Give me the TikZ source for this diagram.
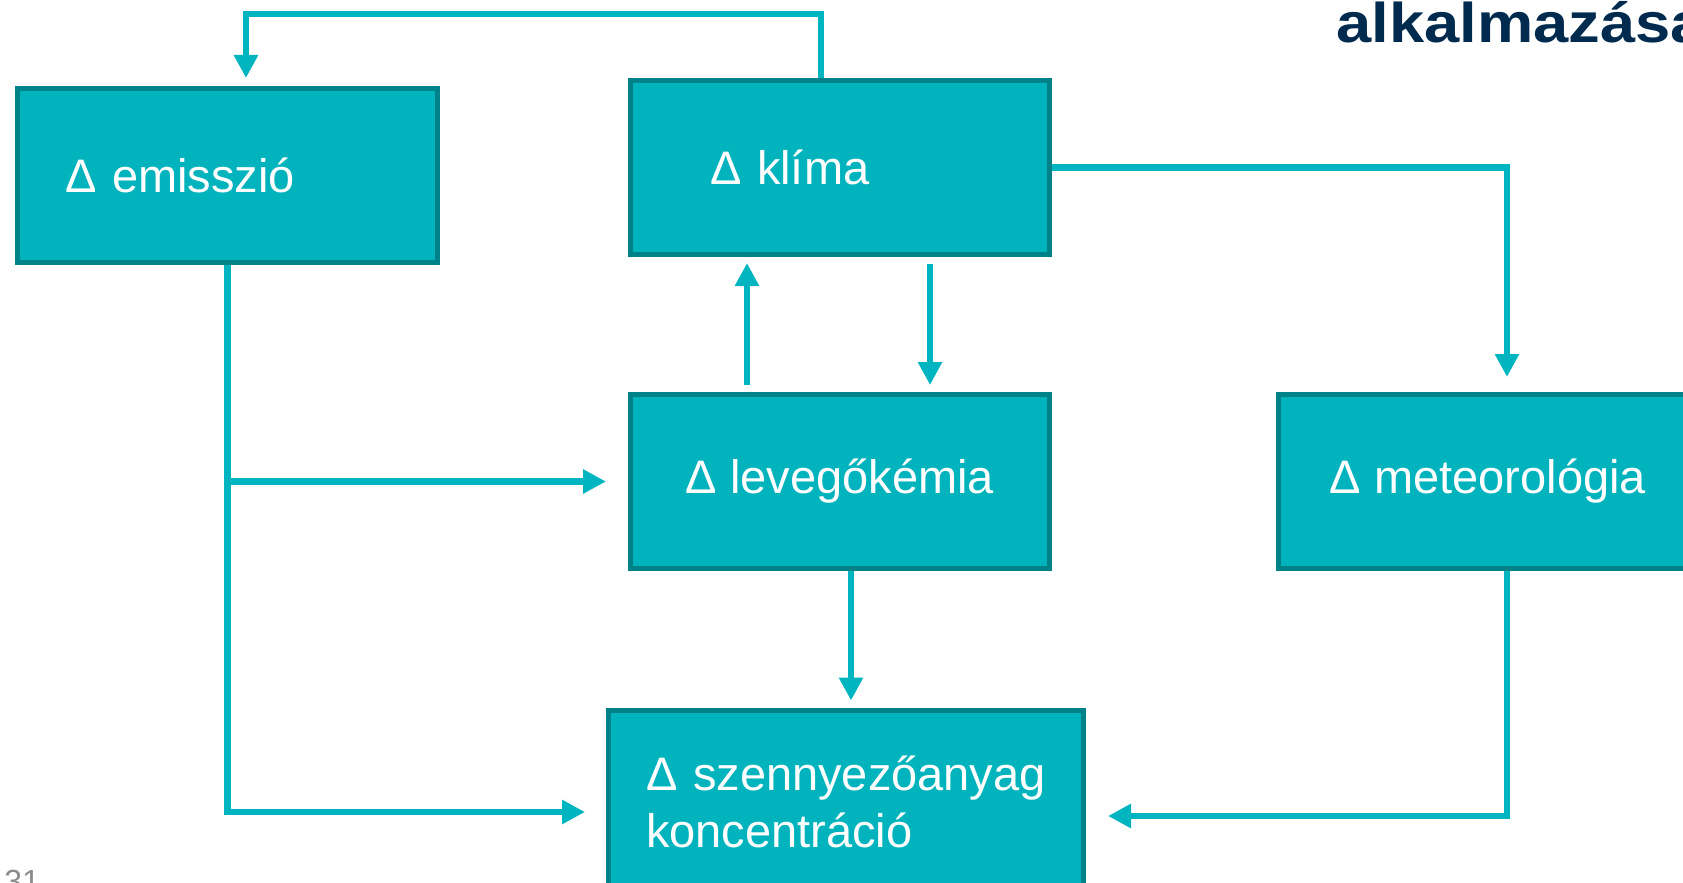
\documentclass[tikz,border=0pt]{standalone}
\usepackage{fontspec}
\setmainfont{Liberation Sans}
\usetikzlibrary{arrows.meta}
\definecolor{boxfill}{RGB}{0,179,189}
\definecolor{boxline}{RGB}{0,130,136}
\definecolor{linkcol}{RGB}{0,181,191}
\definecolor{titlecol}{RGB}{0,43,78}
\definecolor{numcol}{RGB}{140,140,140}

\begin{document}
\begin{tikzpicture}[
  x = 0.5pt, y = -0.5pt,
  box/.style = {draw = boxline, line width = 2.5pt, fill = boxfill,
    text = white, font = \fontsize{23.5}{28.5}\selectfont,
    minimum height = 87pt, inner ysep = 0pt},
  leftbox/.style 2 args = {box, align = left, text width = #1, inner xsep = #2},
  midbox/.style = {box, align = center, minimum width = 209.5pt},
  link/.style = {draw = linkcol, line width = 3.2pt,
    -{Triangle[length = 11.5pt, width = 11.5pt]}}
]

\useasboundingbox (0,0) rectangle (1683,883);

\node [leftbox = {162.5pt}{23.75pt}] (emis) at (227.5,175.5) {Δ emisszió};
\node [leftbox = {130pt}{39.75pt}] (klima) at (840,167.5) {Δ klíma};
\node [midbox] (lev) at (840,481.5) {Δ levegőkémia};
\node [midbox] (meteo) at (1488,481.5) {Δ meteorológia};
\node [leftbox = {200pt}{18.75pt}, minimum height = 92pt] (konc) at (846,802)
  {Δ szennyezőanyag\\koncentráció};

\node [anchor = base west, inner sep = 0pt, text = titlecol,
  font = \fontsize{28}{30}\selectfont\bfseries] (title) at (1336,43)
  {\scalebox{1.13}[1]{alkalmazása}};
\node [anchor = base west, inner sep = 0pt, text = numcol,
  font = \fontsize{16}{18}\selectfont] (pagenum) at (4,892) {31};

\draw [link, shorten >= 4pt] ([xshift=-9.5pt]klima.north) -- ++(0,-64)
  -| ([xshift=9.25pt]emis.north);
\draw [link, shorten >= 7.5pt] (klima.east) -| ([xshift=9.5pt]meteo.north);
\draw [link, shorten <= 3.5pt, shorten >= 3pt] ([xshift=-46.5pt]lev.north)
  -- ([xshift=-46.5pt]klima.south);
\draw [link, shorten <= 3.5pt, shorten >= 3.5pt] ([xshift=45pt]klima.south)
  -- ([xshift=45pt]lev.north);
\draw [link, shorten >= 11pt] (emis.south |- lev.west) -- (lev.west);
\draw [link, shorten >= 10.5pt] (emis.south) |- ([yshift=-5pt]konc.west);
\draw [link, shorten >= 3.5pt] ([xshift=5.5pt]lev.south) -- ([xshift=2.5pt]konc.north);
\draw [link, shorten >= 11pt] ([xshift=9.5pt]meteo.south) |- ([yshift=-7pt]konc.east);

\end{tikzpicture}
\end{document}
